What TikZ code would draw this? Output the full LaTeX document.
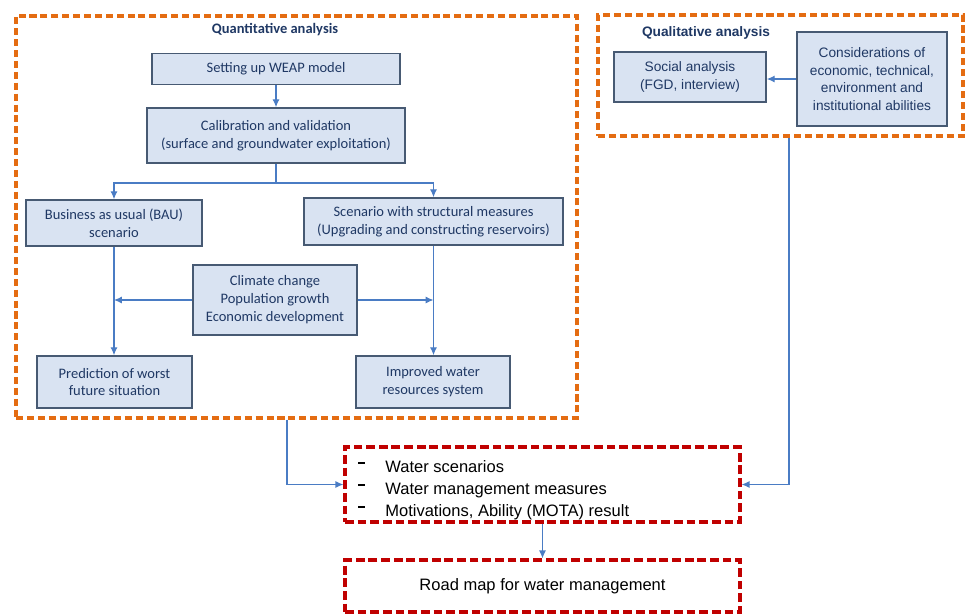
\documentclass[tikz,border=0pt]{standalone}
\usepackage{fontspec}
\setmainfont{Carlito}
\newfontfamily\arialfont{Liberation Sans}
\usetikzlibrary{arrows.meta}
\definecolor{boxfill}{HTML}{D9E3F2}
\definecolor{boxline}{HTML}{475A73}
\definecolor{boxtext}{HTML}{1F3864}
\definecolor{arrowblue}{HTML}{4A7CC4}
\definecolor{frameorange}{HTML}{E46C12}
\definecolor{framered}{HTML}{C00000}
\newcommand{\itemdash}{\makebox[0.54cm][l]{\rule[4.8pt]{3.5pt}{1.1pt}}}
\tikzset{
  stepbox/.style={draw=boxline, line width=0.9pt, fill=boxfill, text=boxtext, align=center,
    font=\fontsize{8.25}{10.2}\selectfont, inner sep=0pt},
  qualbox/.style={stepbox, font=\arialfont\fontsize{7.8}{10}\selectfont},
  frame/.style={draw=frameorange, line width=1.9pt, dash pattern=on 4pt off 2.2pt, inner sep=0pt},
  result/.style={draw=framered, line width=1.9pt, dash pattern=on 5pt off 2.2pt, inner sep=0pt},
  flow/.style={draw=arrowblue, line width=0.65pt, -{Latex[length=4.5pt,width=4pt]}},
  link/.style={draw=arrowblue, line width=0.65pt},
  item/.style={anchor=base west, inner sep=0pt, font=\arialfont\fontsize{9.4}{11}\selectfont}
}
\begin{document}
\begin{tikzpicture}[x=0.02cm, y=-0.02cm]
\useasboundingbox (0,0) rectangle (965,613);
\node[frame, minimum width=11.22cm, minimum height=8.04cm] (quant) at (296.5,217) {};
\node[frame, minimum width=7.3cm, minimum height=2.42cm] (qual) at (780.5,75.5) {};
\node[text=boxtext, font=\bfseries\fontsize{8.25}{10}\selectfont] (quanttitle) at (275,30) {Quantitative analysis};
\node[text=boxtext, font=\arialfont\bfseries\fontsize{7.8}{10}\selectfont] (qualtitle) at (706,33) {Qualitative analysis};
\node[stepbox, minimum width=4.96cm, minimum height=0.62cm] (weap) at (276,69) {Setting up WEAP model};
\node[stepbox, minimum width=5.16cm, minimum height=1.1cm] (calib) at (276,135.5) {Calibration and validation\\(surface and groundwater exploitation)};
\node[stepbox, minimum width=3.52cm, minimum height=0.92cm] (bau) at (114,223) {Business as usual (BAU)\\scenario};
\node[stepbox, minimum width=5.18cm, minimum height=0.94cm] (scen) at (433.5,221.5) {Scenario with structural measures\\(Upgrading and constructing reservoirs)};
\node[stepbox, minimum width=3.28cm, minimum height=1.4cm] (clim) at (275,300) {Climate change\\Population growth\\Economic development};
\node[stepbox, minimum width=3.1cm, minimum height=1.04cm] (pred) at (114.5,382) {Prediction of worst\\future situation};
\node[stepbox, minimum width=3.08cm, minimum height=1.04cm] (impr) at (433,382) {Improved water\\resources system};
\node[qualbox, minimum width=3.04cm, minimum height=1.0cm] (social) at (690,77) {Social analysis\\(FGD, interview)};
\node[qualbox, minimum width=3.0cm, minimum height=1.88cm] (cons) at (872,79) {Considerations of\\economic, technical,\\environment and\\institutional abilities};
\node[result, minimum width=7.9cm, minimum height=1.5cm] (res) at (542.5,484.5) {};
\node[item] (res1) at (358,472) {\itemdash Water scenarios};
\node[item] (res2) at (358,494) {\itemdash Water management measures};
\node[item] (res3) at (358,516) {\itemdash Motivations, Ability (MOTA) result};
\node[result, minimum width=7.9cm, minimum height=1.04cm, font=\arialfont\fontsize{9.4}{11}\selectfont] (road) at (542.5,586) {Road map for water management};
\coordinate (fork) at (276,183);
\draw[flow] (weap) -- (calib);
\draw[link] (calib) -- (fork);
\draw[flow] (fork) -| (bau);
\draw[flow] (fork) -| (scen);
\draw[flow] (bau.south) -- (bau.south |- pred.north);
\draw[flow] (scen.south) -- (scen.south |- impr.north);
\draw[flow] (clim.west) -- (clim.west -| bau.south);
\draw[flow] (clim.east) -- (clim.east -| scen.south);
\draw[flow] (cons.west) -- (cons.west -| social.east);
\draw[flow] ([xshift=-0.19cm]quant.south) |- (res.west);
\draw[flow] ([xshift=0.17cm]qual.south) |- (res.east);
\draw[flow] (res) -- (road);
\end{tikzpicture}
\end{document}
